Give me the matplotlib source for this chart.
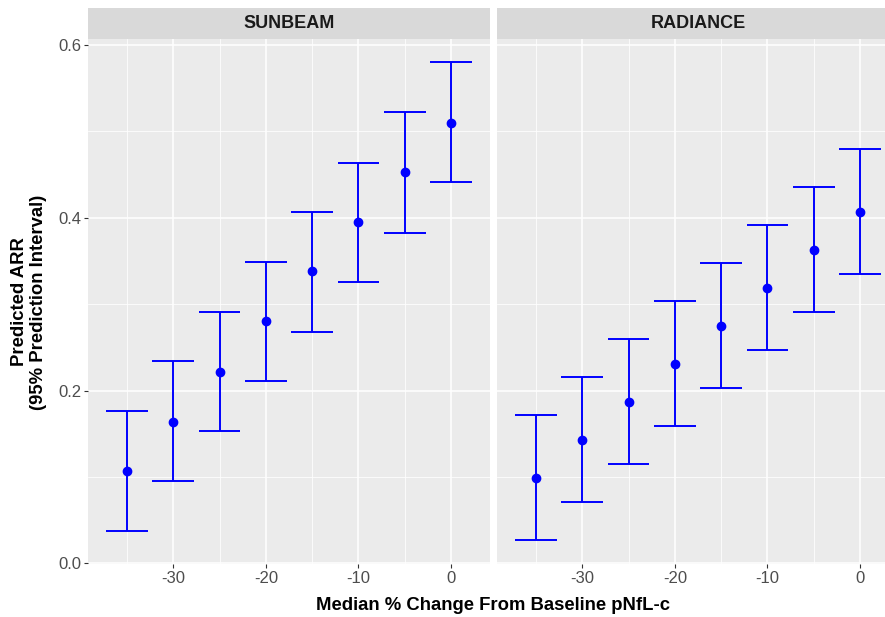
import matplotlib
matplotlib.use("Agg")
import matplotlib.pyplot as plt
from matplotlib.ticker import MultipleLocator

plt.rcParams['font.family'] = ['Liberation Sans', 'DejaVu Sans']

# data
change = [-35, -30, -25, -20, -15, -10, -5, 0]
panels = ["SUNBEAM", "RADIANCE"]
sunbeam_arr = [0.107, 0.164, 0.222, 0.280, 0.338, 0.395, 0.453, 0.510]
sunbeam_lo = [0.038, 0.095, 0.153, 0.211, 0.268, 0.326, 0.383, 0.441]
sunbeam_hi = [0.176, 0.234, 0.291, 0.349, 0.407, 0.464, 0.522, 0.580]
radiance_arr = [0.099, 0.143, 0.187, 0.231, 0.275, 0.319, 0.363, 0.407]
radiance_lo = [0.027, 0.071, 0.115, 0.159, 0.203, 0.247, 0.291, 0.335]
radiance_hi = [0.172, 0.216, 0.260, 0.304, 0.348, 0.392, 0.436, 0.480]

series = {
    "SUNBEAM": (sunbeam_arr, sunbeam_lo, sunbeam_hi),
    "RADIANCE": (radiance_arr, radiance_lo, radiance_hi),
}

W, H = 885, 617
fig = plt.figure(figsize=(W / 100, H / 100), dpi=100)

panel_left = [88, 497]
panel_w = 402
panel_top, panel_bot = 39, 564
strip_top = 8

blue = "#0000FF"
for i, name in enumerate(panels):
    arr, lo, hi = series[name]
    x0 = panel_left[i]
    ax = fig.add_axes([x0 / W, 1 - panel_bot / H, panel_w / W, (panel_bot - panel_top) / H])
    ax.set_facecolor("#EBEBEB")
    for s in ax.spines.values():
        s.set_visible(False)
    ax.set_xlim(-39.2, 4.2)
    ax.set_ylim(-0.0007, 0.607)
    ax.xaxis.set_major_locator(MultipleLocator(10))
    ax.xaxis.set_minor_locator(MultipleLocator(5))
    ax.yaxis.set_major_locator(MultipleLocator(0.2))
    ax.yaxis.set_minor_locator(MultipleLocator(0.1))
    ax.grid(which="major", color="white", linewidth=1.1)
    ax.grid(which="minor", color="white", linewidth=0.55)
    ax.set_axisbelow(True)
    ax.tick_params(which="major", length=3, width=0.8, color="#333333",
                   labelcolor="#4D4D4D", labelsize=12, pad=2)
    ax.tick_params(which="minor", length=0)
    ax.set_xticks([-30, -20, -10, 0])
    ax.set_xticklabels(["-30", "-20", "-10", "0"])
    if i == 0:
        ax.set_yticks([0.0, 0.2, 0.4, 0.6])
        ax.set_yticklabels(["0.0", "0.2", "0.4", "0.6"])
    else:
        ax.tick_params(axis="y", which="both", left=False, labelleft=False)

    yerr = [[a - l for a, l in zip(arr, lo)], [h - a for a, h in zip(arr, hi)]]
    ax.errorbar(change, arr, yerr=yerr, fmt="none", ecolor=blue, elinewidth=1.4,
                capsize=0, zorder=3)
    ax.hlines(lo, [c - 2.25 for c in change], [c + 2.25 for c in change],
              color=blue, linewidth=1.4, zorder=3)
    ax.hlines(hi, [c - 2.25 for c in change], [c + 2.25 for c in change],
              color=blue, linewidth=1.4, zorder=3)
    ax.plot(change, arr, "o", color=blue, markersize=6, zorder=4)

    # facet strip
    sax = fig.add_axes([x0 / W, 1 - panel_top / H, panel_w / W, (panel_top - strip_top) / H])
    sax.set_facecolor("#D9D9D9")
    sax.set_xticks([])
    sax.set_yticks([])
    for s in sax.spines.values():
        s.set_visible(False)
    sax.text(0.5, 0.5, name, transform=sax.transAxes, ha="center", va="center",
             fontsize=13, fontweight="bold", color="#1A1A1A")

fig.text(493 / W, 1 - 606 / H, "Median % Change From Baseline pNfL-c", ha="center",
         va="center", fontsize=13.3, fontweight="bold", color="black")
fig.text(29 / W, 1 - 302 / H, "Predicted ARR\n(95% Prediction Interval)", ha="center",
         va="center", rotation=90, fontsize=13.3, fontweight="bold", color="black",
         linespacing=1.15)

fig.savefig("out.png", dpi=100, facecolor="white")
